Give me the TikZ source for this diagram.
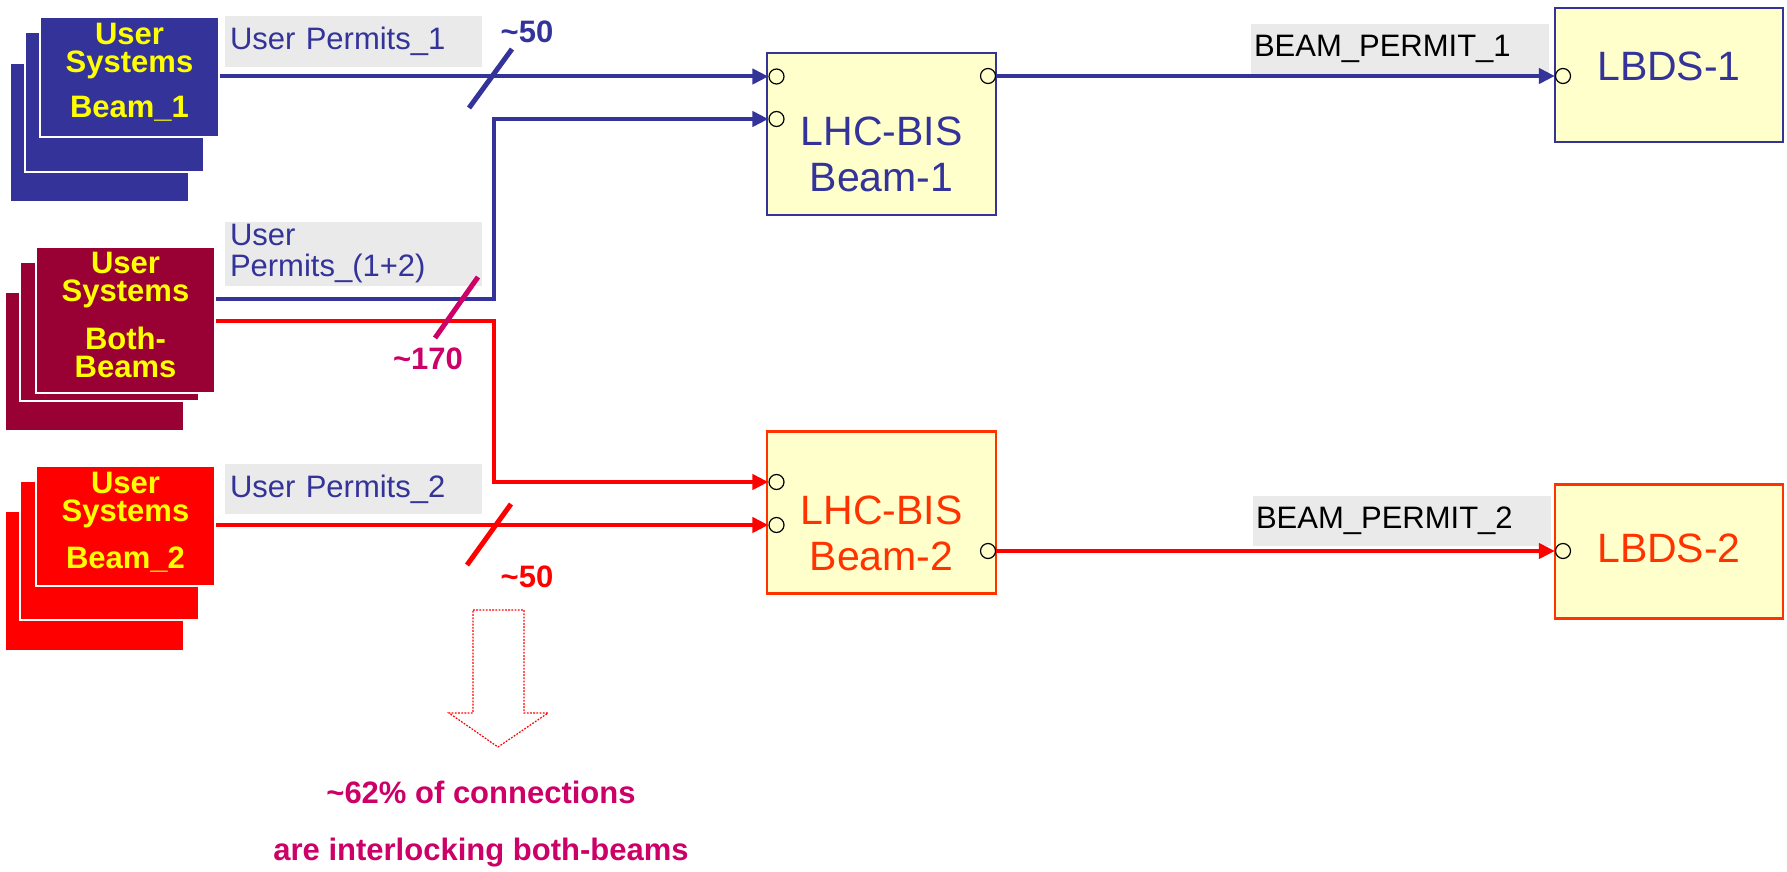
\documentclass[tikz,border=0pt]{standalone}
\usepackage{fontspec}
\setmainfont{Liberation Sans}
\usepackage{xcolor}
\usetikzlibrary{positioning, arrows.meta}
\definecolor{permitblue}{RGB}{51,51,153}
\definecolor{bothred}{RGB}{153,0,51}
\definecolor{beamred}{RGB}{255,0,0}
\definecolor{bisorange}{RGB}{255,51,0}
\definecolor{boxyellow}{RGB}{255,255,204}
\definecolor{labelgrey}{RGB}{234,234,234}
\definecolor{notemagenta}{RGB}{204,0,102}
\definecolor{sysyellow}{RGB}{255,255,0}
\newcommand{\lowpad}[1]{\rule[-#1]{0pt}{0pt}}

\begin{document}
\begin{tikzpicture}[x=0.5pt, y=-0.5pt,
  sysbox/.style={draw=white, line width=1pt, minimum width=89.5pt, inner sep=0pt,
                 align=center, text=sysyellow, font=\fontsize{15.5}{14}\selectfont\bfseries},
  stacklayer/.style={draw=white, line width=1pt},
  tagbox/.style={fill=labelgrey, minimum width=128.5pt, inner xsep=2.5pt, inner ysep=0pt,
                 text width=123.5pt, align=left, text=permitblue, font=\fontsize{15.5}{15.5}\selectfont},
  bisbox/.style={draw, line width=1.25pt, fill=boxyellow, minimum width=114.5pt, minimum height=81pt},
  bistext/.style={align=center, font=\fontsize{20.5}{23}\selectfont},
  lbdsbox/.style={draw, line width=1.25pt, fill=boxyellow, minimum width=114pt, minimum height=67pt,
                  font=\fontsize{20.5}{23}\selectfont},
  port/.style={circle, draw=black, line width=0.6pt, fill=boxyellow, minimum size=7.5pt, inner sep=0pt},
  permit/.style={line width=2pt, -{Triangle[length=8pt, width=7.5pt]}},
  slash/.style={line width=2.5pt},
  tally/.style={font=\fontsize{15.5}{15.5}\selectfont\bfseries}]

  \useasboundingbox (0,0) rectangle (1787,872);

  %% User systems, beam 1
  \filldraw[stacklayer, fill=permitblue] (10,63) rectangle (189,202);
  \filldraw[stacklayer, fill=permitblue] (24.5,32) rectangle (203.5,172);
  \node[sysbox, fill=permitblue, minimum height=60pt] (sys1) at (129.5,77)
    {User\\Systems\\[8.5pt]Beam\_1\lowpad{6.3pt}};

  %% User systems, both beams
  \filldraw[stacklayer, fill=bothred] (5,292) rectangle (184,431);
  \filldraw[stacklayer, fill=bothred] (20,262) rectangle (199,401);
  \node[sysbox, fill=bothred, minimum height=73pt] (sysb) at (125.5,320)
    {User\\Systems\\[8.5pt]Both-\\Beams\lowpad{5pt}};

  %% User systems, beam 2
  \filldraw[stacklayer, fill=beamred] (5,511) rectangle (184,651);
  \filldraw[stacklayer, fill=beamred] (20,481) rectangle (199,620);
  \node[sysbox, fill=beamred, minimum height=60pt] (sys2) at (125.5,526)
    {User\\Systems\\[8.5pt]Beam\_2\lowpad{5.3pt}};

  %% permit labels
  \node[tagbox, minimum height=25.5pt] (tag1) at (353.5,41.5) {User Permits\_1};
  \node[tagbox, minimum height=32pt]   (tagb) at (353.5,254)  {User\\Permits\_(1+2)};
  \node[tagbox, minimum height=25pt]   (tag2) at (353.5,489)  {User Permits\_2};
  \node[tagbox, text=black, minimum width=149pt, text width=146pt, inner xsep=1.5pt,
        minimum height=25pt] (bp1) at (1400,49)  {BEAM\_PERMIT\_1};
  \node[tagbox, text=black, minimum width=149pt, text width=146pt, inner xsep=1.5pt,
        minimum height=25pt] (bp2) at (1402,521) {BEAM\_PERMIT\_2};

  %% interlock controllers
  \node[bisbox, draw=permitblue] (bis1) at (881.5,134) {};
  \node[bistext, text=permitblue] at ([yshift=-10pt]bis1.center) {LHC-BIS\\Beam-1};
  \node[bisbox, draw=bisorange] (bis2) at (881.5,512.5) {};
  \node[bistext, text=bisorange] at ([yshift=-10.5pt]bis2.center) {LHC-BIS\\Beam-2};

  %% dump systems
  \node[lbdsbox, draw=permitblue, text=permitblue] (lbds1) at (1669,75)    {LBDS-1\lowpad{9pt}};
  \node[lbdsbox, draw=bisorange, text=bisorange]   (lbds2) at (1669,551.5) {LBDS-2\lowpad{3.5pt}};

  %% ports
  \node[port] (in1a) at (776.5,76.5) {};
  \node[port] (in1b) at (776.5,119)  {};
  \node[port] (out1) at (988,76)     {};
  \node[port] (in2a) at (776.5,482)  {};
  \node[port] (in2b) at (776.5,525)  {};
  \node[port] (out2) at (988,551)    {};
  \node[port] (lin1) at (1563,76)    {};
  \node[port] (lin2) at (1563,551)   {};

  %% connections
  \coordinate (jog1) at (494,299);
  \coordinate (jog2) at (494,321);
  \draw[permit, permitblue] (sys1.east |- in1a) -- (in1a.west);
  \draw[permit, permitblue] (sysb.east |- jog1) -- (jog1) |- (in1b.west);
  \draw[permit, beamred]    (sysb.east |- jog2) -- (jog2) |- (in2a.west);
  \draw[permit, beamred]    (sys2.east |- in2b) -- (in2b.west);
  \draw[permit, permitblue] (out1.east) -- (lin1.west);
  \draw[permit, beamred]    (out2.east) -- (lin2.west);

  %% bundle marks
  \draw[slash, permitblue]  (469,108) -- (512,49);
  \draw[slash, notemagenta] (435,338) -- (478,277);
  \draw[slash, beamred]     (467,565) -- (511,504);
  \node[tally, text=permitblue]  (n1) at (527,32)  {\textasciitilde50};
  \node[tally, text=notemagenta] (nb) at (428,359) {\textasciitilde170};
  \node[tally, text=beamred]     (n2) at (527,577) {\textasciitilde50};

  %% note
  \draw[beamred, line width=0.6pt, dash pattern=on 0.9pt off 0.7pt]
    (473,610) -- (524,610) -- (524,713) -- (548,713) -- (498,747) -- (449,713) -- (473,713) -- cycle;
  \node[align=center, text=notemagenta, font=\fontsize{15.5}{28.5}\selectfont\bfseries] (note) at (481,824)
    {\textasciitilde62\% of connections\\are interlocking both-beams};
\end{tikzpicture}
\end{document}
